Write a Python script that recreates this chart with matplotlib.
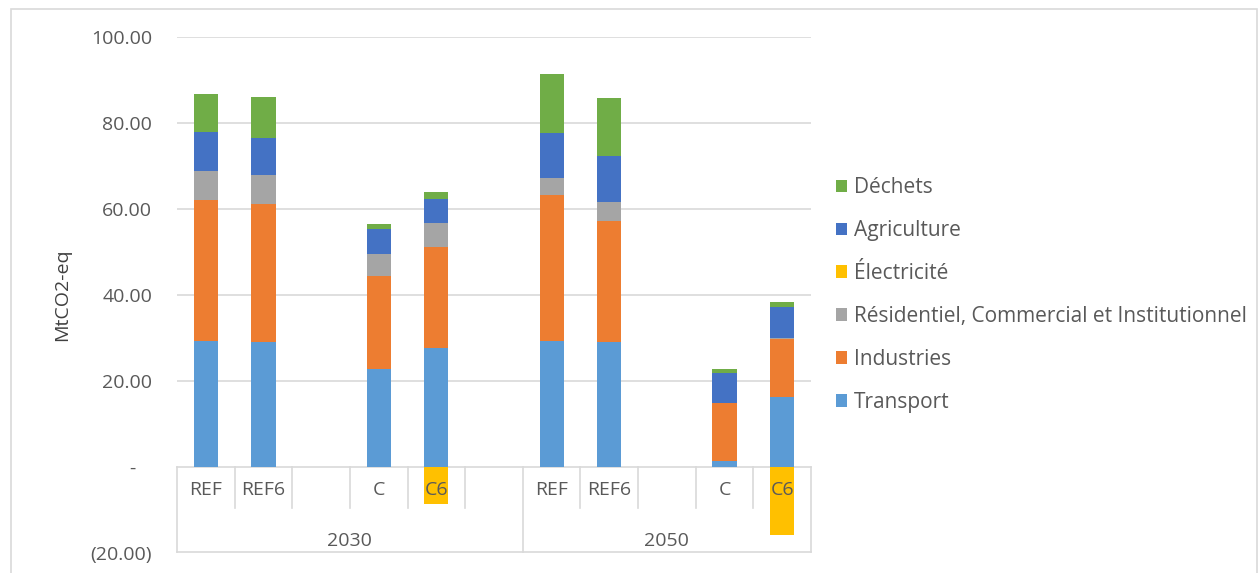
import numpy as np
import matplotlib.pyplot as plt
from matplotlib.patches import Rectangle

############################
# DATA
############################

categories = ["REF", "REF6", "", "C", "C6", "", "REF", "REF6", "", "C", "C6"]
years      = ["2030", "2050"]
year_slots = [(0, 5), (6, 10)]   # first / last slot of each year group

transport   = [29.4, 29.1, 0, 22.9, 27.7, 0, 29.4, 29.1, 0, 1.4, 16.2]
industries  = [32.7, 32.1, 0, 21.5, 23.4, 0, 33.9, 28.2, 0, 13.6, 13.5]
residentiel = [6.8, 6.7, 0, 5.1, 5.7, 0, 3.8, 4.4, 0, 0.0, 0.3]
electricite = [0, 0, 0, 0, -8.6, 0, 0, 0, 0, 0, -15.8]
agriculture = [8.9, 8.7, 0, 5.8, 5.5, 0, 10.6, 10.7, 0, 6.8, 7.2]
dechets     = [8.9, 9.4, 0, 1.2, 1.7, 0, 13.7, 13.3, 0, 0.9, 1.2]

series = [
    ("Transport", transport, "#5B9BD5"),
    ("Industries", industries, "#ED7D31"),
    ("Résidentiel, Commercial et Institutionnel", residentiel, "#A5A5A5"),
    ("Électricité", electricite, "#FFC000"),
    ("Agriculture", agriculture, "#4472C4"),
    ("Déchets", dechets, "#70AD47"),
]

yticks      = [-20, 0, 20, 40, 60, 80, 100]
ytick_texts = ["(20.00)", "-   ", "20.00", "40.00", "60.00", "80.00", "100.00"]

############################
# STYLE
############################

plt.rcParams["font.family"] = ["Open Sans", "DejaVu Sans"]
TXT = "#595959"
FS = 14
FS_LEG = 15

W, H = 1259, 573
fig = plt.figure(figsize=(W / 100, H / 100), dpi=100)
ax = fig.add_axes([177 / W, 1 - 553 / H, (811 - 177) / W, (553 - 37) / H])

# chart area border
fig.patches.append(Rectangle((11 / W, -0.01), (1257 - 11) / W, 1 - 9 / H + 0.01,
                             transform=fig.transFigure, fill=False,
                             edgecolor="#D9D9D9", linewidth=1.2))

x = np.arange(len(categories))
bw = 0.42
pos_bottom = np.zeros(len(categories))
neg_bottom = np.zeros(len(categories))
handles = []
for name, vals, col in series:
    vals = np.array(vals, dtype=float)
    bottom = np.where(vals >= 0, pos_bottom, neg_bottom)
    b = ax.bar(x, vals, bw, bottom=bottom, color=col, label=name, zorder=3)
    handles.append(b)
    pos_bottom += np.clip(vals, 0, None)
    neg_bottom += np.clip(vals, None, 0)

ax.set_xlim(-0.5, len(categories) - 0.5)
ax.set_ylim(-20, 100)

# gridlines above zero only (the category table sits below)
for yv in [20, 40, 60, 80, 100]:
    ax.axhline(yv, color="#D9D9D9", linewidth=1.2, zorder=1)

for s in ax.spines.values():
    s.set_visible(False)
ax.set_xticks([])
ax.set_yticks(yticks)
ax.set_yticklabels(ytick_texts)
ax.tick_params(axis="y", length=0, pad=18, labelsize=FS, labelcolor=TXT)
ax.set_ylabel("MtCO2-eq", fontsize=FS, color="#404040", labelpad=14)

# multi-level category table
line_kw = dict(color="#D9D9D9", linewidth=1.2, clip_on=False, zorder=2)
ax.plot([-0.5, len(categories) - 0.5], [0, 0], **line_kw)
ax.plot([-0.5, len(categories) - 0.5], [-19.8, -19.8], **line_kw)
for k in range(len(categories) + 1):
    xe = k - 0.5
    full = k in (0, 6, len(categories))
    ax.plot([xe, xe], [0, -19.8 if full else -9.6], **line_kw)

for xi, lab in zip(x, categories):
    ax.text(xi, -5.3, lab, ha="center", va="center", fontsize=FS, color=TXT, zorder=4)
for yr, (a, b) in zip(years, year_slots):
    ax.text((a - 0.5 + b + 0.5) / 2, -17.2, yr, ha="center", va="center",
            fontsize=FS, color=TXT)

leg = fig.legend(handles[::-1], [s[0] for s in series][::-1],
                 loc="center left", bbox_to_anchor=(836 / W, 1 - 295 / H),
                 frameon=False, fontsize=FS_LEG, labelcolor=TXT,
                 handlelength=0.55, handleheight=0.55, handletextpad=0.3,
                 labelspacing=1.05, borderpad=0, borderaxespad=0)

fig.savefig("out.png", dpi=100)
